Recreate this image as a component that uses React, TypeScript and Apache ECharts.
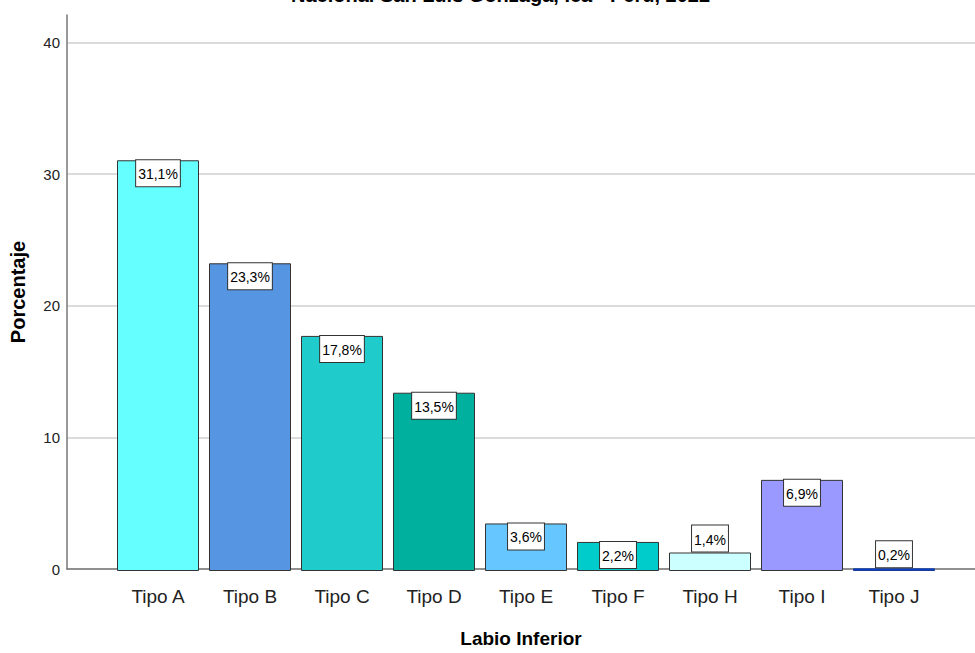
import React, { useEffect, useRef } from "react";
import * as echarts from "echarts";

const categories = ["Tipo A", "Tipo B", "Tipo C", "Tipo D", "Tipo E", "Tipo F", "Tipo H", "Tipo I", "Tipo J"];
const percentages = [31.1, 23.3, 17.8, 13.5, 3.6, 2.2, 1.4, 6.9, 0.2];
const barColors = ["#66FFFF", "#5595E1", "#1FCBCB", "#00B09F", "#66C6FF", "#00CCCC", "#CCFFFF", "#9999FF", "#0046DE"];
const yTicks = [0, 10, 20, 30, 40];
const titleText = "Nacional San Luis Gonzaga, Ica - Perú, 2022";
const xName = "Labio Inferior";
const yName = "Porcentaje";

const SANS = "'Liberation Sans', Arial, sans-serif";

export default function App() {
  const ref = useRef<HTMLDivElement>(null);
  useEffect(() => {
    if (!ref.current) return;
    const chart = echarts.init(ref.current, null, { renderer: "svg" });
    const yMax = 42.1;
    const plotH = 653 - 15 - 82;
    const pxPerUnit = plotH / yMax;
    const option: any = {
      animation: false,
      backgroundColor: "#ffffff",
      graphic: [
        {
          type: "text",
          left: 291,
          top: -15,
          style: { text: titleText, font: "bold 20px " + SANS, fill: "#000" },
        },
      ],
      grid: [
        { left: 67, right: 0, top: 15, bottom: 82 },
        { left: 112, right: 35, top: 15, bottom: 82 },
      ],
      xAxis: [
        {
          gridIndex: 0,
          type: "value",
          min: 0,
          max: 1,
          axisLine: { show: true, lineStyle: { color: "#777", width: 1.5 } },
          axisTick: { show: false },
          axisLabel: { show: false },
          splitLine: { show: false },
          name: xName,
          nameLocation: "middle",
          nameGap: 60,
          nameTextStyle: { fontFamily: SANS, fontWeight: "bold", fontSize: 19, color: "#000" },
        },
        {
          gridIndex: 1,
          type: "category",
          data: categories,
          axisLine: { show: false },
          axisTick: { show: false },
          axisLabel: { fontFamily: SANS, fontSize: 19, color: "#222", margin: 16 },
        },
      ],
      yAxis: [
        {
          gridIndex: 0,
          type: "value",
          min: yTicks[0],
          max: yMax,
          interval: 10,
          axisLine: { show: true, lineStyle: { color: "#777", width: 1.5 } },
          axisTick: { show: false },
          axisLabel: {
            fontFamily: SANS,
            fontSize: 15,
            color: "#222",
            margin: 7,
            formatter: (v: number) => (yTicks.includes(v) ? String(v) : ""),
          },
          splitLine: { show: true, showMaxLine: false, lineStyle: { color: "#cfcfcf", width: 1.5 } },
          name: yName,
          nameLocation: "middle",
          nameGap: 39,
          nameTextStyle: { fontFamily: SANS, fontWeight: "bold", fontSize: 20, color: "#000" },
        },
        {
          gridIndex: 1,
          type: "value",
          min: 0,
          max: yMax,
          show: false,
          splitLine: { show: false },
        },
      ],
      series: [
        {
          type: "bar",
          xAxisIndex: 1,
          yAxisIndex: 1,
          barWidth: 82,
          data: percentages.map((v, i) => ({
            value: v,
            itemStyle: {
              color: barColors[i],
              borderColor: v < 1 ? "#1a3c9a" : "#333",
              borderWidth: 1,
            },
            label: {
              position: v * pxPerUnit > 27 ? "insideTop" : "top",
              distance: v * pxPerUnit > 27 ? 0 : 1,
            },
          })),
          label: {
            show: true,
            formatter: (p: any) => p.value.toFixed(1).replace(".", ",") + "%",
            fontFamily: SANS,
            fontSize: 14,
            color: "#000",
            backgroundColor: "#fff",
            borderColor: "#333",
            borderWidth: 1,
            padding: [7, 2, 5, 2],
          },
        },
      ],
    };
    chart.setOption(option);
    return () => chart.dispose();
  }, []);
  return (
    <div
      ref={ref}
      style={{ position: "fixed", left: 0, top: 0, width: 975, height: 653, background: "#fff" }}
    />
  );
}
